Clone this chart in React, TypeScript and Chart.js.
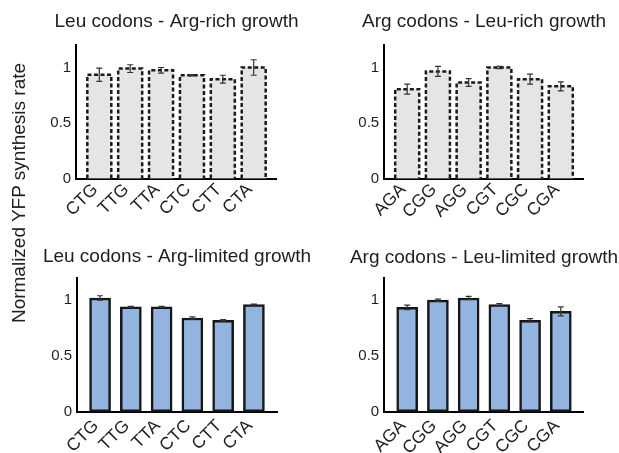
import React, { useEffect, useRef } from 'react';
import { Chart, registerables } from 'chart.js';

Chart.register(...registerables);

const FONT = '"Liberation Sans", Arial, sans-serif';

const leuCodons = ['CTG', 'TTG', 'TTA', 'CTC', 'CTT', 'CTA'];
const argCodons = ['AGA', 'CGG', 'AGG', 'CGT', 'CGC', 'CGA'];
const yTicks = [0, 0.5, 1];

const leuArgRich = [0.935, 0.99, 0.975, 0.93, 0.895, 1.0];
const leuArgRichErr = [0.06, 0.035, 0.025, 0.005, 0.035, 0.07];
const argLeuRich = [0.805, 0.965, 0.865, 1.0, 0.895, 0.83];
const argLeuRichErr = [0.045, 0.045, 0.035, 0.01, 0.045, 0.04];
const leuArgLim = [1.02, 0.94, 0.94, 0.84, 0.82, 0.96];
const leuArgLimErr = [0.02, 0.005, 0.005, 0.01, 0.005, 0.005];
const argLeuLim = [0.935, 1.0, 1.02, 0.96, 0.82, 0.9];
const argLeuLimErr = [0.02, 0.01, 0.015, 0.01, 0.015, 0.04];

const barExtras = {
  id: 'barExtras',
  afterDatasetsDraw(chart: any) {
    const ctx = chart.ctx;
    const ds = chart.data.datasets[0];
    const meta = chart.getDatasetMeta(0);
    const yScale = chart.scales.y;
    ctx.save();
    if (ds.dashed) {
      ctx.strokeStyle = '#1a1a1a';
      ctx.lineWidth = 2.5;
      ctx.setLineDash([4, 2.5]);
      meta.data.forEach((bar: any) => {
        const l = bar.x - bar.width / 2;
        const r = bar.x + bar.width / 2;
        ctx.beginPath();
        ctx.moveTo(l, bar.base);
        ctx.lineTo(l, bar.y);
        ctx.lineTo(r, bar.y);
        ctx.lineTo(r, bar.base);
        ctx.stroke();
      });
    }
    ctx.setLineDash([]);
    ctx.strokeStyle = '#333';
    ctx.lineWidth = 1.2;
    meta.data.forEach((bar: any, i: number) => {
      const v = ds.data[i].y;
      const e = ds.errors[i];
      const yt = yScale.getPixelForValue(v + e);
      const yb = yScale.getPixelForValue(v - e);
      const cx = bar.x;
      ctx.beginPath();
      ctx.moveTo(cx, yt);
      ctx.lineTo(cx, yb);
      ctx.moveTo(cx - 3, yt);
      ctx.lineTo(cx + 3, yt);
      ctx.moveTo(cx - 3, yb);
      ctx.lineTo(cx + 3, yb);
      ctx.stroke();
    });
    ctx.restore();
  },
};

const SIDE = 50;

type PanelProps = {
  chartLeft: number;
  chartRight: number;
  top: number;
  height: number;
  title: string;
  labels: string[];
  values: number[];
  errors: number[];
  dashed: boolean;
  xHeight: number;
  titlePadTop: number;
  titlePadBottom: number;
  labelPad: number;
};

function Panel(p: PanelProps) {
  const ref = useRef<HTMLCanvasElement>(null);
  const width = Math.round(p.chartRight - p.chartLeft + 2 * SIDE);
  const left = p.chartLeft - SIDE;
  const sideW = (width - (p.chartRight - p.chartLeft)) / 2;
  useEffect(() => {
    const chart = new Chart(ref.current as HTMLCanvasElement, {
      type: 'bar',
      data: {
        datasets: [
          {
            data: p.values.map((v, i) => ({ x: i, y: v })),
            errors: p.errors,
            dashed: p.dashed,
            xAxisID: 'x',
            yAxisID: 'y',
            backgroundColor: p.dashed ? '#e7e4e4' : '#92b4df',
            borderColor: p.dashed ? 'rgba(0,0,0,0)' : '#161616',
            borderWidth: p.dashed ? 0 : 2.5,
            borderSkipped: false,
            barThickness: p.dashed ? 24 : 21,
          } as any,
        ],
      },
      options: {
        responsive: false,
        animation: false,
        devicePixelRatio: 1,
        layout: { padding: 0 },
        plugins: {
          legend: { display: false },
          tooltip: { enabled: false },
          title: {
            display: true,
            text: p.title,
            color: '#1e1e1e',
            font: { family: FONT, size: 19, weight: 'normal' },
            padding: { top: p.titlePadTop, bottom: p.titlePadBottom },
          },
        },
        scales: {
          x: {
            type: 'linear',
            offset: false,
            min: -0.75,
            max: 5.75,
            grid: { display: false, drawTicks: false },
            border: { display: true, color: '#000', width: 2 },
            afterBuildTicks: (s: any) => {
              s.ticks = p.labels.map((_, i) => ({ value: i }));
            },
            afterFit: (s: any) => {
              s.height = p.xHeight;
            },
            ticks: {
              autoSkip: false,
              minRotation: 45,
              maxRotation: 45,
              padding: p.labelPad,
              labelOffset: -4,
              color: '#1e1e1e',
              font: { family: FONT, size: 17.5 },
              callback: (v: any) => p.labels[v] ?? '',
            },
          },
          y: {
            position: 'left',
            min: 0,
            max: 1.2,
            grid: { display: false, drawTicks: false },
            border: { display: true, color: '#000', width: 2 },
            afterBuildTicks: (s: any) => {
              s.ticks = yTicks.map((v) => ({ value: v }));
            },
            afterFit: (s: any) => {
              s.width = sideW;
            },
            ticks: {
              padding: 5,
              color: '#1e1e1e',
              font: { family: FONT, size: 15 },
              callback: (v: any) => String(v),
            },
          },
          yr: {
            position: 'right',
            display: true,
            grid: { display: false, drawTicks: false },
            border: { display: false },
            ticks: { display: false },
            afterFit: (s: any) => {
              s.width = sideW;
            },
          },
        },
      } as any,
      plugins: [barExtras],
    });
    return () => chart.destroy();
  }, []);
  return (
    <canvas
      ref={ref}
      width={width}
      height={p.height}
      style={{ position: 'absolute', left, top: p.top, width, height: p.height }}
    />
  );
}

export default function App() {
  return (
    <div
      style={{
        position: 'fixed',
        left: 0,
        top: 0,
        width: 619,
        height: 453,
        background: '#fff',
        overflow: 'hidden',
      }}
    >
      <Panel
        chartLeft={76} chartRight={276.7} top={0} height={226}
        title="Leu codons - Arg-rich growth"
        labels={leuCodons} values={leuArgRich} errors={leuArgRichErr} dashed={true}
        xHeight={47.5} titlePadTop={10} titlePadBottom={12.5} labelPad={1}
      />
      <Panel
        chartLeft={384.3} chartRight={584} top={0} height={226}
        title="Arg codons - Leu-rich growth"
        labels={argCodons} values={argLeuRich} errors={argLeuRichErr} dashed={true}
        xHeight={47.5} titlePadTop={10} titlePadBottom={12.5} labelPad={1}
      />
      <Panel
        chartLeft={76.7} chartRight={276.7} top={226} height={227}
        title="Leu codons - Arg-limited growth"
        labels={leuCodons} values={leuArgLim} errors={leuArgLimErr} dashed={false}
        xHeight={41.3} titlePadTop={19.4} titlePadBottom={9.7} labelPad={4}
      />
      <Panel
        chartLeft={384.3} chartRight={584} top={226} height={227}
        title="Arg codons - Leu-limited growth"
        labels={argCodons} values={argLeuLim} errors={argLeuLimErr} dashed={false}
        xHeight={41.3} titlePadTop={20.5} titlePadBottom={8.6} labelPad={4}
      />
      <div
        style={{
          position: 'absolute',
          left: 19.2 - 150,
          top: 193 - 11,
          width: 300,
          height: 22,
          lineHeight: '22px',
          textAlign: 'center',
          fontFamily: FONT,
          fontSize: 19,
          color: '#1e1e1e',
          transform: 'rotate(-90deg)',
          whiteSpace: 'nowrap',
        }}
      >
        Normalized YFP synthesis rate
      </div>
    </div>
  );
}
